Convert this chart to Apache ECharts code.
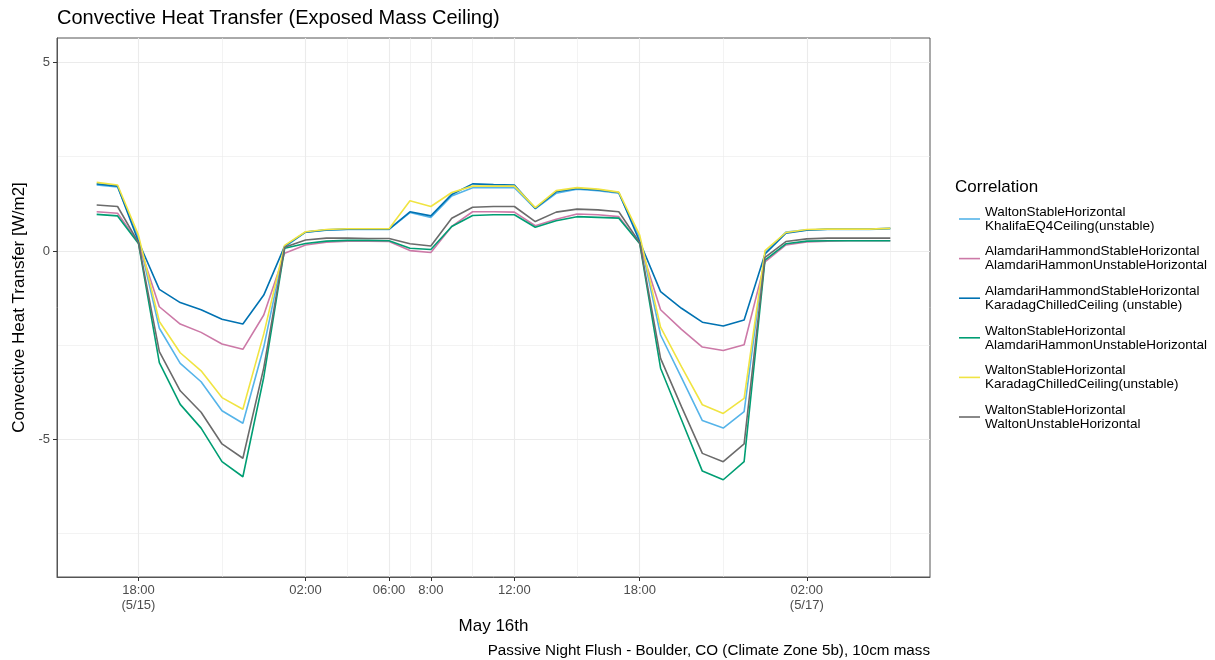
<!DOCTYPE html>
<html>
<head>
<meta charset="utf-8">
<script src="https://cdn.jsdelivr.net/npm/echarts@6/dist/echarts.min.js"></script>
<style>
  html, body { margin: 0; padding: 0; background: #ffffff; }
  #chart { width: 1215px; height: 660px; }
</style>
</head>
<body>
<div id="chart"></div>
<script>
// Hours counted from 00:00 on 5/15 (16:00 on 5/15 through 06:00 on 5/17)
const hours = [16, 17, 18, 19, 20, 21, 22, 23, 24, 25, 26, 27, 28, 29, 30, 31, 32, 33, 34, 35,
               36, 37, 38, 39, 40, 41, 42, 43, 44, 45, 46, 47, 48, 49, 50, 51, 52, 53, 54];

// Major and minor time breaks
const tickHours = [18, 26, 30, 32, 36, 42, 50];
const tickLabels = ['18:00\n(5/15)', '02:00', '06:00', '8:00', '12:00', '18:00', '02:00\n(5/17)'];
const minorHours = [22, 28, 31, 34, 39, 46, 54];

const yTicks = [-5, 0, 5];
const yMinor = [-7.5, -2.5, 2.5];

// Convective heat transfer per correlation pair [W/m2]
const waltonKhalifa = [1.75, 1.70, 0.35, -2.05, -2.98, -3.47, -4.24, -4.57, -2.55, 0.10,
  0.50, 0.55, 0.57, 0.57, 0.57, 1.02, 0.89, 1.46, 1.68, 1.68,
  1.68, 1.12, 1.53, 1.64, 1.60, 1.53, 0.35, -2.23, -3.36, -4.50,
  -4.70, -4.26, -0.05, 0.50, 0.56, 0.57, 0.57, 0.57, 0.59];

const alamdariAlamdari = [1.04, 1.00, 0.22, -1.48, -1.94, -2.16, -2.47, -2.61, -1.70, -0.06,
  0.16, 0.23, 0.26, 0.26, 0.25, 0.01, -0.04, 0.65, 1.04, 1.04,
  1.03, 0.67, 0.84, 0.98, 0.96, 0.91, 0.20, -1.56, -2.08, -2.55,
  -2.64, -2.49, -0.29, 0.16, 0.24, 0.26, 0.27, 0.27, 0.27];

const alamdariKaradag = [1.78, 1.72, 0.25, -1.02, -1.37, -1.56, -1.81, -1.94, -1.17, 0.13,
  0.50, 0.56, 0.58, 0.58, 0.58, 1.04, 0.93, 1.50, 1.78, 1.76,
  1.75, 1.13, 1.57, 1.66, 1.62, 1.55, 0.25, -1.08, -1.52, -1.89,
  -1.99, -1.83, -0.08, 0.47, 0.55, 0.58, 0.58, 0.58, 0.60];

const waltonAlamdari = [0.97, 0.93, 0.20, -2.96, -4.07, -4.70, -5.59, -5.99, -3.35, 0.07,
  0.20, 0.26, 0.28, 0.28, 0.27, 0.07, 0.04, 0.65, 0.94, 0.96,
  0.96, 0.63, 0.80, 0.91, 0.89, 0.87, 0.20, -3.11, -4.48, -5.84,
  -6.07, -5.59, -0.24, 0.19, 0.26, 0.27, 0.27, 0.27, 0.27];

const waltonKaradag = [1.82, 1.75, 0.42, -1.87, -2.70, -3.18, -3.89, -4.20, -2.20, 0.15,
  0.51, 0.57, 0.59, 0.59, 0.59, 1.33, 1.18, 1.55, 1.72, 1.72,
  1.72, 1.15, 1.60, 1.68, 1.64, 1.56, 0.42, -2.02, -3.07, -4.08,
  -4.31, -3.91, 0.01, 0.49, 0.57, 0.58, 0.58, 0.58, 0.60];

const waltonWalton = [1.22, 1.18, 0.22, -2.67, -3.71, -4.28, -5.12, -5.50, -3.10, 0.10,
  0.29, 0.34, 0.34, 0.33, 0.33, 0.19, 0.13, 0.87, 1.16, 1.18,
  1.18, 0.78, 1.03, 1.11, 1.09, 1.04, 0.22, -2.85, -4.13, -5.37,
  -5.59, -5.12, -0.17, 0.25, 0.32, 0.34, 0.34, 0.34, 0.34];

const seriesNames = [
  'WaltonStableHorizontal\nKhalifaEQ4Ceiling(unstable)',
  'AlamdariHammondStableHorizontal\nAlamdariHammonUnstableHorizontal',
  'AlamdariHammondStableHorizontal\nKaradagChilledCeiling (unstable)',
  'WaltonStableHorizontal\nAlamdariHammonUnstableHorizontal',
  'WaltonStableHorizontal\nKaradagChilledCeiling(unstable)',
  'WaltonStableHorizontal\nWaltonUnstableHorizontal'
];
const seriesValues = [waltonKhalifa, alamdariAlamdari, alamdariKaradag, waltonAlamdari, waltonKaradag, waltonWalton];
const seriesColors = ['#56B4E9', '#CC79A7', '#0072B2', '#009E73', '#F0E442', '#6B6B6B'];

const FONT = '"Liberation Sans", Arial, Helvetica, sans-serif';
const X_MIN = 14.1, X_MAX = 55.9;
const Y_MIN = -8.65, Y_MAX = 5.65;

const chart = echarts.init(document.getElementById('chart'), null, { renderer: 'canvas' });

const gridLine = (w) => ({ show: true, lineStyle: { color: '#EBEBEB', width: w } });

const option = {
  animation: false,
  backgroundColor: '#ffffff',
  textStyle: { fontFamily: FONT },
  title: [
    {
      text: 'Convective Heat Transfer (Exposed Mass Ceiling)',
      left: 57, top: 8, padding: 0,
      textStyle: { fontFamily: FONT, fontSize: 20, fontWeight: 'normal', color: '#000000' }
    },
    {
      text: 'Correlation',
      left: 955, top: 179, padding: 0,
      textStyle: { fontFamily: FONT, fontSize: 17, fontWeight: 'normal', color: '#000000' }
    },
    {
      text: 'Passive Night Flush - Boulder, CO (Climate Zone 5b), 10cm mass',
      right: 285, top: 643, padding: 0,
      textStyle: { fontFamily: FONT, fontSize: 15.2, fontWeight: 'normal', color: '#000000' }
    }
  ],
  legend: {
    orient: 'vertical',
    left: 959, top: 205, padding: 0,
    icon: 'rect',
    itemWidth: 21, itemHeight: 1.6, itemGap: 11.6,
    data: seriesNames,
    textStyle: { fontFamily: FONT, fontSize: 13.5, color: '#000000', lineHeight: 14 }
  },
  grid: {
    left: 57, right: 285, top: 38, bottom: 83,
    show: true, backgroundColor: '#ffffff', borderColor: '#555555', borderWidth: 1
  },
  xAxis: [
    {
      type: 'value', min: X_MIN, max: X_MAX,
      name: 'May 16th', nameLocation: 'middle', nameGap: 40,
      nameTextStyle: { fontFamily: FONT, fontSize: 17, color: '#000000' },
      axisLine: { show: true, onZero: false, lineStyle: { color: '#555555', width: 1 } },
      axisTick: { show: true, length: 4, customValues: tickHours, lineStyle: { color: '#333333', width: 1 } },
      axisLabel: {
        show: true, margin: 6, customValues: tickHours,
        fontFamily: FONT, fontSize: 13, color: '#4D4D4D', lineHeight: 15,
        formatter: (v) => {
          const i = tickHours.indexOf(Math.round(v * 1000) / 1000);
          return i >= 0 ? tickLabels[i] : '';
        }
      },
      splitLine: gridLine(1.1),
      z: 1
    },
    {
      type: 'value', min: X_MIN, max: X_MAX,
      axisLine: { show: false },
      axisTick: { show: false, customValues: minorHours },
      axisLabel: { show: false, customValues: minorHours },
      splitLine: gridLine(0.6),
      z: 0
    }
  ],
  yAxis: [
    {
      type: 'value', min: Y_MIN, max: Y_MAX,
      name: 'Convective Heat Transfer [W/m2]', nameLocation: 'middle', nameGap: 28,
      nameTextStyle: { fontFamily: FONT, fontSize: 17, color: '#000000' },
      axisLine: { show: true, onZero: false, lineStyle: { color: '#555555', width: 1 } },
      axisTick: { show: true, length: 4, customValues: yTicks, lineStyle: { color: '#333333', width: 1 } },
      axisLabel: {
        show: true, margin: 7, customValues: yTicks,
        fontFamily: FONT, fontSize: 13, color: '#4D4D4D',
        formatter: (v) => String(Math.round(v))
      },
      splitLine: gridLine(1.1),
      z: 1
    },
    {
      type: 'value', min: Y_MIN, max: Y_MAX,
      axisLine: { show: false },
      axisTick: { show: false, customValues: yMinor },
      axisLabel: { show: false, customValues: yMinor },
      splitLine: gridLine(0.6),
      z: 0
    }
  ],
  series: seriesNames.map((name, k) => ({
    name: name,
    type: 'line',
    xAxisIndex: 0,
    yAxisIndex: 0,
    symbol: 'none',
    showSymbol: false,
    color: seriesColors[k],
    lineStyle: { color: seriesColors[k], width: 1.6 },
    z: 2 + k,
    data: hours.map((h, i) => [h, seriesValues[k][i]])
  }))
};

chart.setOption(option);
</script>
</body>
</html>
